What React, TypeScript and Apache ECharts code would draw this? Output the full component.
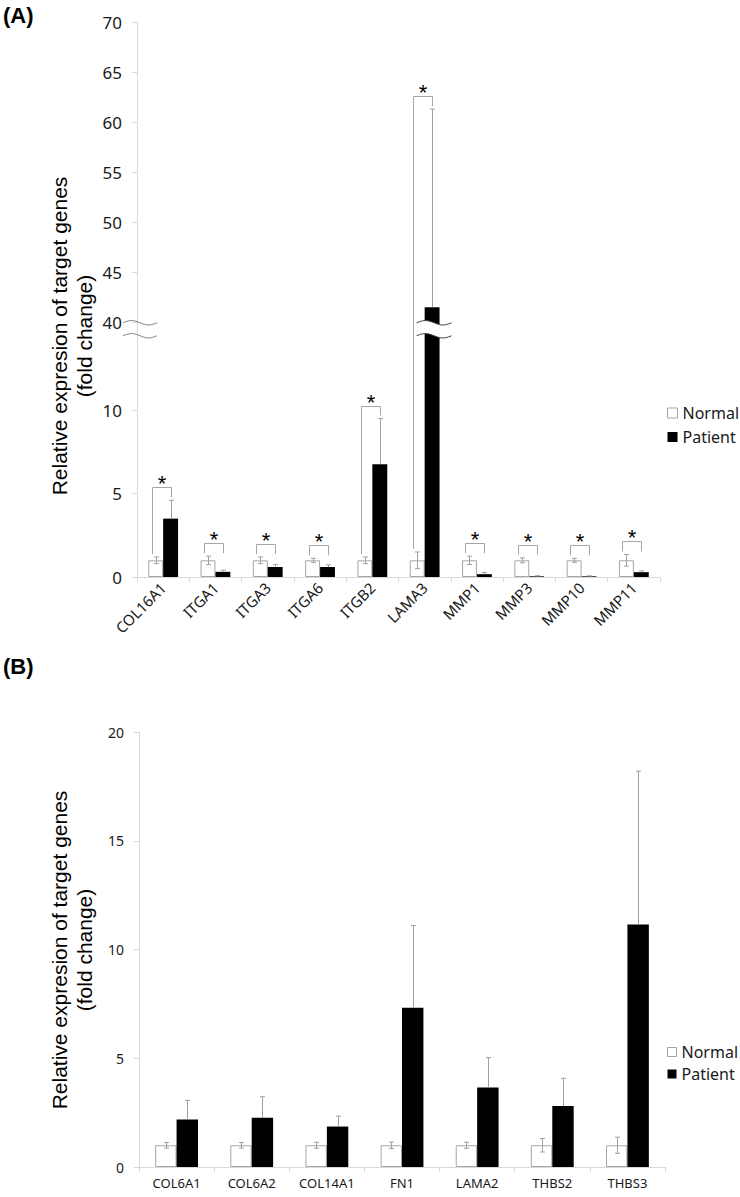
import React, { useEffect, useRef } from "react";
import * as echarts from "echarts";

// ---------------- data ----------------
const seriesNames = ["Normal", "Patient"];
const yTitle = "Relative expresion of target genes\n(fold change)";

const categoriesA = ["COL16A1", "ITGA1", "ITGA3", "ITGA6", "ITGB2", "LAMA3", "MMP1", "MMP3", "MMP10", "MMP11"];
const normalA = [1, 1, 1, 1, 1, 1, 1, 1, 1, 1];
const normalErrA = [0.2, 0.25, 0.2, 0.12, 0.2, 0.5, 0.25, 0.15, 0.12, 0.35];
const patientA = [3.5, 0.31, 0.6, 0.6, 6.76, 41.5, 0.17, 0.04, 0.04, 0.29];
const patientErrA = [1.1, 0.1, 0.15, 0.13, 2.74, 19.8, 0.1, 0.04, 0.03, 0.08];
const significantA = ["COL16A1", "ITGA1", "ITGA3", "ITGA6", "ITGB2", "LAMA3", "MMP1", "MMP3", "MMP10", "MMP11"];
const brokenBarsA = ["LAMA3"];
const yLowerTicksA = [0, 5, 10];
const yUpperTicksA = [40, 45, 50, 55, 60, 65, 70];

const categoriesB = ["COL6A1", "COL6A2", "COL14A1", "FN1", "LAMA2", "THBS2", "THBS3"];
const normalB = [1, 1, 1, 1, 1, 1, 1];
const normalErrB = [0.13, 0.13, 0.14, 0.15, 0.14, 0.31, 0.37];
const patientB = [2.18, 2.26, 1.86, 7.32, 3.66, 2.8, 11.15];
const patientErrB = [0.88, 0.97, 0.48, 3.78, 1.37, 1.28, 7.05];
const yTicksB = [0, 5, 10, 15, 20];

// ---------------- broken axis transform (panel A) ----------------
const BREAK_AT = 15.27; // lower-scale position where the upper segment starts
const UPPER_RATIO = 0.6; // upper segment is compressed relative to lower
const upperStart = yUpperTicksA[0];
const toD = (v: number) =>
  v < upperStart ? Math.min(v, BREAK_AT) : BREAK_AT + (v - upperStart) * UPPER_RATIO;
const fromD = (d: number) => (d < BREAK_AT - 1e-6 ? d : upperStart + (d - BREAK_AT) / UPPER_RATIO);
const identity = (v: number) => v;

// ---------------- styling ----------------
const GAP = 0.43;
const AXIS_GRAY = "#d9d9d9";
const ERR_GRAY = "#a0a0a0";
const BRACKET_GRAY = "#a6a6a6";
const TEXT = "#1a1a1a";
const FONT = "Noto Sans";
const TITLE_FONT = "Liberation Sans";

function errSeries(grid: number, vals: number[], errs: number[], side: number, both: boolean, tf: (v: number) => number) {
  return {
    type: "custom",
    xAxisIndex: grid,
    yAxisIndex: grid,
    z: 4,
    silent: true,
    clip: false,
    data: vals.map((v, i) => [i, tf(v + errs[i]), tf(both ? Math.max(0, v - errs[i]) : v)]),
    renderItem: (params: any, api: any) => {
      const i = api.value(0);
      const band = api.size([1, 0])[0];
      const bw = (band * (1 - GAP)) / 2;
      const top = api.coord([i, api.value(1)]);
      const bot = api.coord([i, api.value(2)]);
      const x = Math.round(top[0] + (side * bw) / 2) + 0.5;
      const st = { stroke: ERR_GRAY, lineWidth: 1 };
      const children: any[] = [
        { type: "line", shape: { x1: x, y1: top[1], x2: x, y2: bot[1] }, style: st },
        { type: "line", shape: { x1: x - 2.5, y1: top[1], x2: x + 2.5, y2: top[1] }, style: st },
      ];
      if (both) children.push({ type: "line", shape: { x1: x - 2.5, y1: bot[1], x2: x + 2.5, y2: bot[1] }, style: st });
      return { type: "group", children };
    },
  };
}

function bracketSeries(grid: number, cats: string[], sig: string[], nV: number[], nE: number[], pV: number[], pE: number[], tf: (v: number) => number) {
  const data = cats
    .map((c, i) => (sig.includes(c) ? [i, tf(nV[i] + nE[i]), tf(pV[i] + pE[i])] : null))
    .filter((d) => d !== null);
  return {
    type: "custom",
    xAxisIndex: grid,
    yAxisIndex: grid,
    z: 6,
    silent: true,
    clip: false,
    data,
    renderItem: (params: any, api: any) => {
      const i = api.value(0);
      const band = api.size([1, 0])[0];
      const bw = (band * (1 - GAP)) / 2;
      const cx = api.coord([i, 0])[0];
      const yN = api.coord([i, api.value(1)])[1];
      const yP = api.coord([i, api.value(2)])[1];
      const xl = Math.round(cx - bw / 2 - 4) + 0.5;
      const xr = Math.round(cx + bw / 2) + 0.5;
      const hi = Math.min(yN, yP);
      const top = Math.round(hi - 13) + 0.5;
      return {
        type: "group",
        children: [
          {
            type: "polyline",
            shape: { points: [[xl, yN - 3], [xl, top], [xr, top], [xr, hi - 3]] },
            style: { stroke: BRACKET_GRAY, lineWidth: 1, fill: null },
          },
          {
            type: "text",
            x: (xl + xr) / 2,
            y: top - 4,
            style: {
              text: "*",
              fill: "#000",
              font: `22px "${TITLE_FONT}"`,
              align: "center",
              verticalAlign: "middle",
              textAlign: "center",
              textVerticalAlign: "middle",
            },
          },
        ],
      };
    },
  };
}

function wavePoints(x0: number, x1: number, yc: number, amp: number) {
  const pts: number[][] = [];
  const n = 24;
  for (let t = 0; t <= n; t++) {
    pts.push([x0 + ((x1 - x0) * t) / n, yc - amp * Math.sin((2 * Math.PI * t) / n)]);
  }
  return pts;
}

function breakSeries() {
  const data: number[][] = [[0, BREAK_AT, 0]];
  brokenBarsA.forEach((c) => data.push([categoriesA.indexOf(c), BREAK_AT, 1]));
  return {
    type: "custom",
    xAxisIndex: 0,
    yAxisIndex: 0,
    z: 8,
    silent: true,
    clip: false,
    data,
    renderItem: (params: any, api: any) => {
      const i = api.value(0);
      const kind = api.value(2);
      const band = api.size([1, 0])[0];
      const bw = (band * (1 - GAP)) / 2;
      const p = api.coord([i, api.value(1)]);
      const y1 = p[1] + 0.5;
      const y2 = p[1] + 13.5;
      if (kind === 0) {
        const ax = p[0] - band / 2;
        const st = { stroke: "#7f7f7f", lineWidth: 1, fill: null };
        return {
          type: "group",
          children: [
            { type: "polyline", shape: { points: wavePoints(ax - 14, ax + 20, y1, 2.2) }, style: st },
            { type: "polyline", shape: { points: wavePoints(ax - 14, ax + 20, y2, 2.2) }, style: st },
          ],
        };
      }
      const x0 = p[0] - 8;
      const x1 = p[0] + bw + 12;
      const top = wavePoints(x0, x1, y1, 2.2);
      const bot = wavePoints(x0, x1, y2, 2.2);
      const poly = top.concat(bot.slice().reverse());
      const st = { stroke: "#404040", lineWidth: 1, fill: null };
      return {
        type: "group",
        children: [
          { type: "polygon", shape: { points: poly }, style: { fill: "#fff", stroke: null } },
          { type: "polyline", shape: { points: top }, style: st },
          { type: "polyline", shape: { points: bot }, style: st },
        ],
      };
    },
  };
}

function buildOption() {
  const dMax = toD(yUpperTicksA[yUpperTicksA.length - 1]);
  const tickValsA = yLowerTicksA.map(toD).concat(yUpperTicksA.map(toD));
  const normalStyle = { color: "#fff", borderColor: "#a6a6a6", borderWidth: 1 };
  const patientStyle = { color: "#000" };
  const legendData = [
    { name: seriesNames[0], itemStyle: normalStyle },
    { name: seriesNames[1], itemStyle: patientStyle },
  ];
  const xAxisCommon = {
    type: "category",
    axisLine: { show: true, lineStyle: { color: AXIS_GRAY, width: 1 } },
    axisTick: { show: true, length: 5, interval: 0, lineStyle: { color: AXIS_GRAY } },
    splitLine: { show: false },
  };
  const titleStyle = {
    text: yTitle,
    font: `21px "${TITLE_FONT}"`,
    fill: "#000",
    lineHeight: 25,
    align: "center",
    verticalAlign: "middle",
    textAlign: "center",
    textVerticalAlign: "middle",
  };
  return {
    animation: false,
    backgroundColor: "#fff",
    textStyle: { fontFamily: FONT },
    grid: [
      { left: 137, top: 22, width: 523, height: 555 },
      { left: 139, top: 732, width: 526, height: 435 },
    ],
    xAxis: [
      {
        ...xAxisCommon,
        gridIndex: 0,
        data: categoriesA,
        axisLabel: { interval: 0, rotate: 45, fontSize: 15, color: TEXT, margin: 8, fontFamily: FONT },
      },
      {
        ...xAxisCommon,
        gridIndex: 1,
        data: categoriesB,
        axisLabel: { interval: 0, fontSize: 13, color: TEXT, margin: 9, fontFamily: FONT },
      },
    ],
    yAxis: [
      {
        type: "value",
        gridIndex: 0,
        min: 0,
        max: dMax,
        axisLine: { show: true, lineStyle: { color: AXIS_GRAY, width: 1 } },
        axisTick: { show: true, length: 5, customValues: tickValsA, lineStyle: { color: AXIS_GRAY } },
        axisLabel: {
          customValues: tickValsA,
          formatter: (v: number) => String(Math.round(fromD(v))),
          fontSize: 17,
          color: TEXT,
          margin: 15,
          fontFamily: FONT,
        },
        splitLine: { show: false },
      },
      {
        type: "value",
        gridIndex: 1,
        min: yTicksB[0],
        max: yTicksB[yTicksB.length - 1],
        interval: yTicksB[1] - yTicksB[0],
        axisLine: { show: true, lineStyle: { color: AXIS_GRAY, width: 1 } },
        axisTick: { show: true, length: 5, lineStyle: { color: AXIS_GRAY } },
        axisLabel: { fontSize: 14, color: TEXT, margin: 15, fontFamily: FONT },
        splitLine: { show: false },
      },
    ],
    legend: [
      {
        orient: "vertical",
        left: 667,
        top: 405,
        itemWidth: 10,
        itemHeight: 10,
        itemGap: 8,
        icon: "rect",
        selectedMode: false,
        padding: 0,
        data: legendData,
        textStyle: { fontSize: 16, color: TEXT, fontFamily: FONT },
      },
      {
        orient: "vertical",
        left: 667,
        top: 1044,
        itemWidth: 9,
        itemHeight: 9,
        itemGap: 6,
        icon: "rect",
        selectedMode: false,
        padding: 0,
        data: legendData,
        textStyle: { fontSize: 16, color: TEXT, fontFamily: FONT },
      },
    ],
    graphic: [
      { type: "text", left: 3, top: 4, style: { text: "(A)", font: `bold 22px "${TITLE_FONT}"`, fill: "#000" } },
      { type: "text", left: 3, top: 655, style: { text: "(B)", font: `bold 22px "${TITLE_FONT}"`, fill: "#000" } },
      { type: "text", x: 72, y: 336, rotation: Math.PI / 2, style: titleStyle },
      { type: "text", x: 72, y: 950, rotation: Math.PI / 2, style: titleStyle },
    ],
    series: [
      {
        name: seriesNames[0],
        type: "bar",
        xAxisIndex: 0,
        yAxisIndex: 0,
        barGap: "0%",
        barCategoryGap: `${GAP * 100}%`,
        itemStyle: normalStyle,
        data: normalA.map(toD),
        z: 2,
      },
      {
        name: seriesNames[1],
        type: "bar",
        xAxisIndex: 0,
        yAxisIndex: 0,
        barGap: "0%",
        barCategoryGap: `${GAP * 100}%`,
        itemStyle: patientStyle,
        data: patientA.map(toD),
        z: 2,
      },
      errSeries(0, normalA, normalErrA, -1, true, toD),
      errSeries(0, patientA, patientErrA, 1, false, toD),
      bracketSeries(0, categoriesA, significantA, normalA, normalErrA, patientA, patientErrA, toD),
      breakSeries(),
      {
        name: seriesNames[0],
        type: "bar",
        xAxisIndex: 1,
        yAxisIndex: 1,
        barGap: "0%",
        barCategoryGap: `${GAP * 100}%`,
        itemStyle: normalStyle,
        data: normalB,
        z: 2,
      },
      {
        name: seriesNames[1],
        type: "bar",
        xAxisIndex: 1,
        yAxisIndex: 1,
        barGap: "0%",
        barCategoryGap: `${GAP * 100}%`,
        itemStyle: patientStyle,
        data: patientB,
        z: 2,
      },
      errSeries(1, normalB, normalErrB, -1, true, identity),
      errSeries(1, patientB, patientErrB, 1, false, identity),
    ],
  };
}

export default function App() {
  const ref = useRef<HTMLDivElement>(null);
  useEffect(() => {
    if (!ref.current) return;
    const chart = echarts.init(ref.current, null, { renderer: "svg" });
    chart.setOption(buildOption() as any);
    return () => chart.dispose();
  }, []);
  return (
    <div
      ref={ref}
      style={{ position: "absolute", left: 0, top: 0, width: 740, height: 1197, background: "#fff" }}
    />
  );
}
